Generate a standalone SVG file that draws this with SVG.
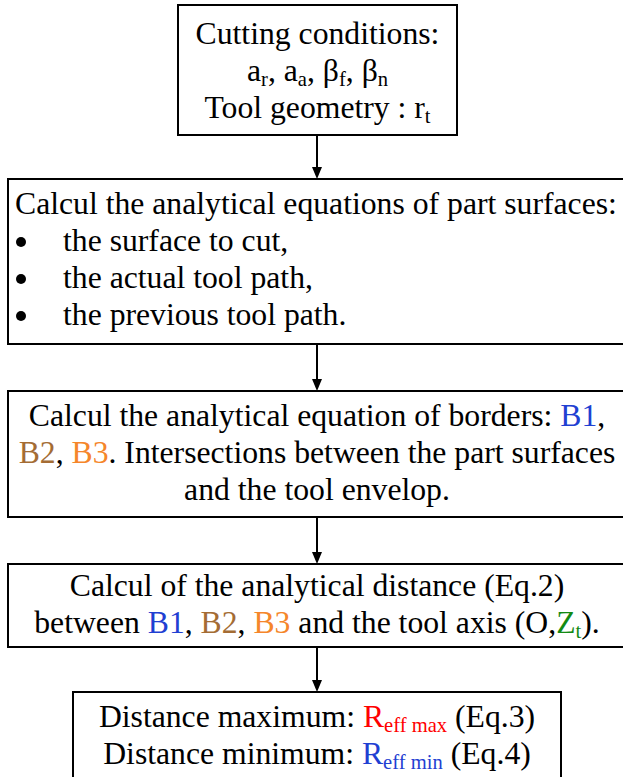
<svg xmlns="http://www.w3.org/2000/svg" width="623" height="777" viewBox="0 0 623 777">
<defs>
<style>
.box{fill:#fff;stroke:#000;stroke-width:2}
.t{font-family:"Liberation Serif","Times New Roman",serif;font-size:31.7px;fill:#000}
.c{text-anchor:middle}
.sub{font-size:20.6px}
.b1{fill:#1f40d2}.b2{fill:#a46c34}.b3{fill:#f5862a}.g{fill:#138a13}.r{fill:#ff0000}
.con{stroke:#000;stroke-width:2;fill:none}
.ah{fill:#000}
</style>
</defs>
<g id="connectors">
<line class="con" x1="317" y1="135" x2="317" y2="170"/>
<path class="ah" d="M312,167 L322,167 L317,179 Z"/>
<line class="con" x1="317" y1="344" x2="317" y2="382"/>
<path class="ah" d="M312,379 L322,379 L317,391 Z"/>
<line class="con" x1="317" y1="517" x2="317" y2="555"/>
<path class="ah" d="M312,552 L322,552 L317,564 Z"/>
<line class="con" x1="317" y1="647" x2="317" y2="683"/>
<path class="ah" d="M312,680 L322,680 L317,692 Z"/>
</g>
<g id="n1">
<rect class="box" x="178" y="5" width="279" height="130"/>
<text class="t c" x="317.5" y="44">Cutting conditions:</text>
<text class="t c" x="317.5" y="81">a<tspan class="sub" dy="5">r</tspan><tspan dy="-5">, a</tspan><tspan class="sub" dy="5">a</tspan><tspan dy="-5">, β</tspan><tspan class="sub" dy="5">f</tspan><tspan dy="-5">, β</tspan><tspan class="sub" dy="5">n</tspan></text>
<text class="t c" x="317.5" y="118">Tool geometry : r<tspan class="sub" dy="5">t</tspan></text>
</g>
<g id="n2">
<rect class="box" x="8" y="179" width="618" height="165"/>
<text class="t" x="15" y="214">Calcul the analytical equations of part surfaces:</text>
<circle cx="21" cy="242" r="5"/>
<text class="t" x="63" y="251">the surface to cut,</text>
<circle cx="21" cy="279" r="5"/>
<text class="t" x="63" y="288">the actual tool path,</text>
<circle cx="21" cy="316" r="5"/>
<text class="t" x="63" y="325">the previous tool path.</text>
</g>
<g id="n3">
<rect class="box" x="8" y="391" width="618" height="126"/>
<text class="t c" x="317" y="426">Calcul the analytical equation of borders: <tspan class="b1">B1</tspan>,</text>
<text class="t c" x="317" y="463"><tspan class="b2">B2</tspan>, <tspan class="b3">B3</tspan>. Intersections between the part surfaces</text>
<text class="t c" x="317" y="500">and the tool envelop.</text>
</g>
<g id="n4">
<rect class="box" x="8" y="564" width="618" height="83"/>
<text class="t c" x="317" y="596">Calcul of the analytical distance (Eq.2)</text>
<text class="t c" x="317" y="633">between <tspan class="b1">B1</tspan>, <tspan class="b2">B2</tspan>, <tspan class="b3">B3</tspan> and the tool axis (O,<tspan class="g">Z</tspan><tspan class="g sub" dy="5">t</tspan><tspan dy="-5">).</tspan></text>
</g>
<g id="n5">
<rect class="box" x="73" y="692" width="488" height="100"/>
<text class="t c" x="317" y="727">Distance maximum: <tspan class="r">R</tspan><tspan class="r sub" dy="5">eff max</tspan><tspan dy="-5"> (Eq.3)</tspan></text>
<text class="t c" x="317" y="764">Distance minimum: <tspan class="b1">R</tspan><tspan class="b1 sub" dy="5">eff min</tspan><tspan dy="-5"> (Eq.4)</tspan></text>
</g>
</svg>
